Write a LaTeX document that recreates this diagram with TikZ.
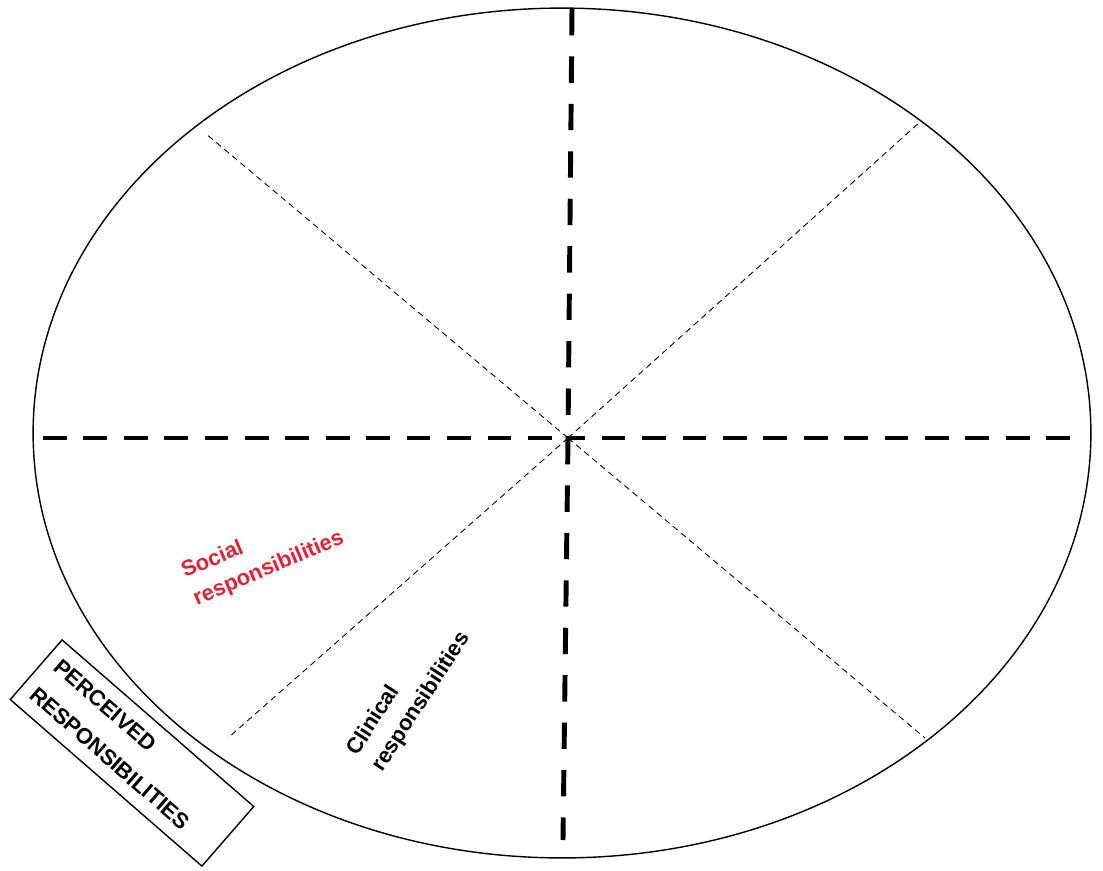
\documentclass[tikz,border=0pt]{standalone}
\usepackage{fontspec}
\setsansfont{Liberation Sans}
\usetikzlibrary{shapes.geometric}
\definecolor{socialred}{RGB}{232,30,50}

\begin{document}
\begin{tikzpicture}[x=0.02cm, y=-0.02cm]
    % Define styles
    \tikzstyle{axisv} = [line width=2.8pt, dash pattern=on 15pt off 12pt]
    \tikzstyle{axish} = [line width=2.5pt, dash pattern=on 13.5pt off 9.5pt]
    \tikzstyle{spoke} = [line width=0.5pt, dash pattern=on 3.5pt off 2.5pt]
    \tikzstyle{label} = [font=\sffamily\bfseries\fontsize{12.5}{17}\selectfont, align=left, inner sep=0pt]
    \useasboundingbox (0,0) rectangle (1103,870);

    % Outer ellipse
    \draw[line width=0.8pt] (562,433) ellipse [x radius=10.58cm, y radius=8.5cm];

    % Axis end points
    \coordinate (centre) at (568,438);
    \coordinate (top) at (572,9);
    \coordinate (bottom) at (563,840);
    \coordinate (left) at (43,438);
    \coordinate (right) at (1070,438);
    \coordinate (ne) at (920,122);
    \coordinate (nw) at (205,133);
    \coordinate (sw) at (228,738);
    \coordinate (se) at (925,738);

    % Thin spokes
    \draw[spoke] (centre) -- (ne);
    \draw[spoke] (centre) -- (nw);
    \draw[spoke] (centre) -- (sw);
    \draw[spoke] (centre) -- (se);

    % Thick axes
    \draw[axisv] (top) -- (centre);
    \draw[axisv] (centre) -- (bottom);
    \draw[axish] (left) -- (centre);
    \draw[axish] (right) -- (centre);

    % Labels
    \node[label, text=socialred, rotate=23] (social) at (263,555) {Social\\responsibilities};
    \node[label, rotate=57] (clinical) at (409,694) {Clinical\\responsibilities};
    \node[draw, line width=0.8pt, rotate=-41, text width=4.6cm, minimum height=1.58cm,
          inner xsep=0.24cm, align=left, font=\sffamily\bfseries\fontsize{12.5}{21}\selectfont]
          (perceived) at (132,753) {PERCEIVED\\RESPONSIBILITIES};
\end{tikzpicture}
\end{document}
